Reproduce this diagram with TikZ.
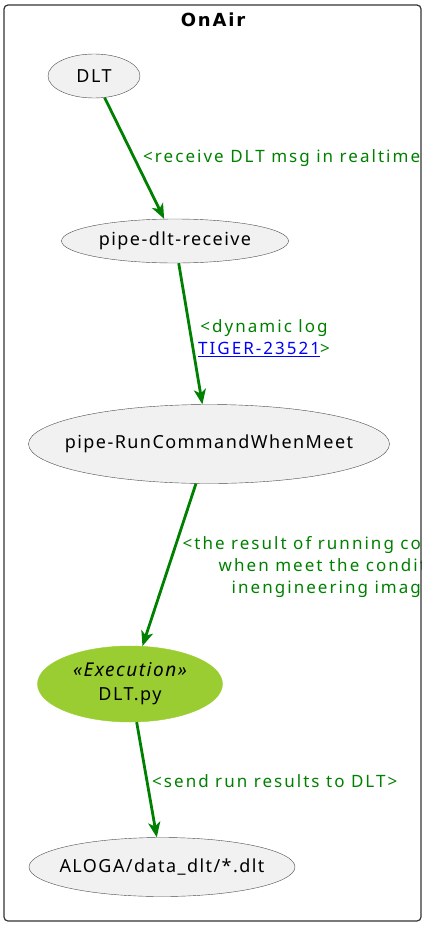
\documentclass[tikz,border=0pt]{standalone}
\usepackage{fontspec}
\setmainfont{Noto Sans}
\newfontfamily\nodefont{Noto Sans}[LetterSpace=8]
\newfontfamily\msgfont{Noto Sans}[LetterSpace=12]
\newfontfamily\titlefont{DejaVu Sans}[LetterSpace=10]
\usetikzlibrary{shapes,arrows.meta,positioning}
\definecolor{nodegray}{HTML}{F1F1F1}
\definecolor{linegreen}{HTML}{008000}
\definecolor{execgreen}{HTML}{9ACD32}
\definecolor{framegray}{HTML}{333333}

\begin{document}
\begin{tikzpicture}[x=1pt,y=-1pt,
    usecase/.style={draw=black!70, fill=nodegray, ellipse, inner xsep=-30pt, inner ysep=0pt, font=\nodefont\fontsize{18}{24}\selectfont},
    flow/.style={draw=linegreen, line width=2.8pt, ->, >={Stealth[length=15pt,width=12pt,inset=4pt]}},
    msg/.style={text=linegreen, font=\msgfont\fontsize{17}{22}\selectfont, anchor=west, inner sep=0pt}]
    \useasboundingbox (0,0) rectangle (435,926);

    \node (dlt) [usecase, minimum width=92pt, minimum height=44pt] at (94,76) {DLT};
    \node (receive) [usecase, minimum width=227pt, minimum height=44pt] at (175,241) {pipe-dlt-receive};
    \node (runcmd) [usecase, minimum width=361pt, minimum height=79pt] at (209,444) {pipe-RunCommandWhenMeet};
    \node (dltpy) [usecase, fill=execgreen, draw=execgreen, minimum width=185pt, minimum height=76pt, align=center] at (130,684) {{\itshape\fontsize{19}{24}\selectfont «Execution»}\\DLT.py};
    \node (aloga) [usecase, minimum width=266pt, minimum height=59pt] at (162,867) {ALOGA/data\_dlt/*.dlt};

    \draw[flow] (dlt) -- (receive);
    \draw[flow] (receive) -- (runcmd);
    \draw[flow] (runcmd) -- (dltpy);
    \draw[flow] (dltpy) -- (aloga);

    \begin{scope}
        \clip (0,0) rectangle (421,926);
        \node (lblreceive) [msg] at (143,158) {<receive DLT msg in realtime>};
        \node (lbldynamic) [msg, anchor=center, align=center] at (264,338) {<dynamic log\\\textcolor{blue}{\underline{TIGER-23521}}>};
        \node (lblresult) [msg, anchor=center, align=center] at (338,567) {<the result of running command\\when meet the condition\\inengineering image>};
        \node (lblsend) [msg] at (152,781) {<send run results to DLT>};
    \end{scope}

    \draw[framegray, line width=1.2pt, rounded corners=4pt] (4,5) rectangle (421,921);
    \node (title) [font=\titlefont\bfseries\fontsize{18}{20}\selectfont] at (213,20) {OnAir};
\end{tikzpicture}
\end{document}
